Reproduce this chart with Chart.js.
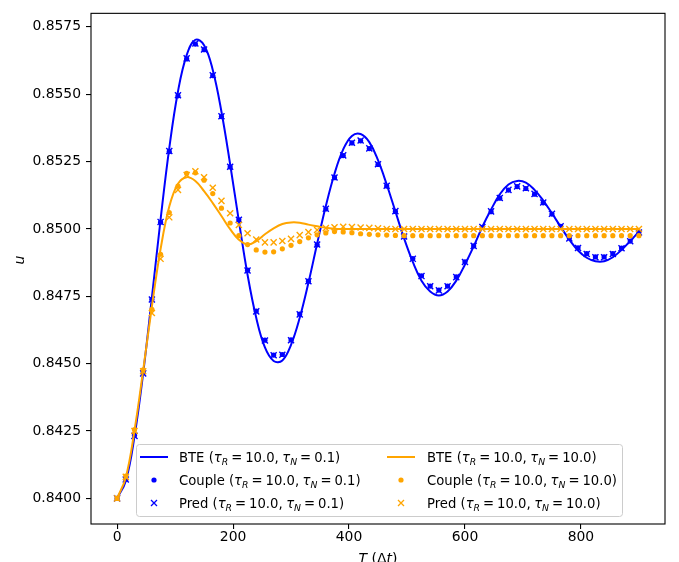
<!DOCTYPE html>
<html>
<head>
<meta charset="utf-8">
<script src="https://cdn.jsdelivr.net/npm/chart.js@4.4.1/dist/chart.umd.min.js"></script>
<style>
  html, body { margin: 0; padding: 0; background: #fff; }
  #wrap { width: 679px; height: 562px; }
</style>
</head>
<body>
<div id="wrap"><canvas id="chartU" width="679" height="562"></canvas></div>
<script>
// time steps (T in units of dt)
var tValues = [0, 15, 30, 45, 60, 75, 90, 105, 120, 135, 150, 165, 180, 195, 210, 225, 240, 255, 270, 285,
    300, 315, 330, 345, 360, 375, 390, 405, 420, 435, 450, 465, 480, 495, 510, 525, 540, 555, 570, 585,
    600, 615, 630, 645, 660, 675, 690, 705, 720, 735, 750, 765, 780, 795, 810, 825, 840, 855, 870, 885, 900];

// tau_N = 0.1
var bteFast = [0.84000, 0.84065, 0.84230, 0.84465, 0.84745, 0.85035, 0.85300, 0.85510, 0.85645, 0.85702,
    0.85682, 0.85590, 0.85435, 0.85240, 0.85030, 0.84830, 0.84670, 0.84560, 0.84510, 0.84512,
    0.84570, 0.84670, 0.84800, 0.84945, 0.85085, 0.85205, 0.85295, 0.85345, 0.85352, 0.85322,
    0.85255, 0.85165, 0.85065, 0.84965, 0.84878, 0.84808, 0.84768, 0.84753, 0.84768, 0.84808,
    0.84868, 0.84935, 0.85008, 0.85072, 0.85128, 0.85165, 0.85178, 0.85172, 0.85145, 0.85105,
    0.85058, 0.85008, 0.84960, 0.84920, 0.84893, 0.84880, 0.84880, 0.84895, 0.84922, 0.84955, 0.84990];
var coupleFast = [0.84000, 0.84071, 0.84234, 0.84466, 0.84739, 0.85025, 0.85287, 0.85494, 0.85631, 0.85686,
    0.85665, 0.85569, 0.85417, 0.85230, 0.85034, 0.84847, 0.84695, 0.84587, 0.84532, 0.84534,
    0.84588, 0.84684, 0.84806, 0.84941, 0.85074, 0.85190, 0.85272, 0.85319, 0.85327, 0.85298,
    0.85239, 0.85159, 0.85065, 0.84972, 0.84890, 0.84826, 0.84788, 0.84773, 0.84788, 0.84822,
    0.84878, 0.84937, 0.85006, 0.85064, 0.85114, 0.85144, 0.85157, 0.85150, 0.85129, 0.85097,
    0.85055, 0.85010, 0.84966, 0.84930, 0.84908, 0.84896, 0.84896, 0.84908, 0.84929, 0.84955, 0.84988];
var predFast = [0.84000, 0.84070, 0.84232, 0.84464, 0.84738, 0.85026, 0.85289, 0.85496, 0.85633, 0.85688,
    0.85666, 0.85570, 0.85418, 0.85231, 0.85034, 0.84846, 0.84694, 0.84586, 0.84531, 0.84533,
    0.84587, 0.84683, 0.84806, 0.84942, 0.85075, 0.85191, 0.85273, 0.85320, 0.85328, 0.85299,
    0.85240, 0.85160, 0.85066, 0.84972, 0.84889, 0.84825, 0.84787, 0.84772, 0.84787, 0.84821,
    0.84877, 0.84937, 0.85007, 0.85065, 0.85115, 0.85145, 0.85158, 0.85151, 0.85130, 0.85098,
    0.85056, 0.85010, 0.84965, 0.84929, 0.84907, 0.84895, 0.84895, 0.84907, 0.84928, 0.84954, 0.84987];

// tau_N = 10.0
var bteSlow = [0.84000, 0.84078, 0.84252, 0.84476, 0.84712, 0.84925, 0.85083, 0.85168, 0.85192, 0.85178,
    0.85140, 0.85096, 0.85048, 0.84999, 0.84960, 0.84942, 0.84955, 0.84980, 0.85002, 0.85018,
    0.85024, 0.85023, 0.85016, 0.85010, 0.85004, 0.85001, 0.85000, 0.85000, 0.85000, 0.85000,
    0.85000, 0.85000, 0.85000, 0.85000, 0.85000, 0.85000, 0.85000, 0.85000, 0.85000, 0.85000,
    0.85000, 0.85000, 0.85000, 0.85000, 0.85000, 0.85000, 0.85000, 0.85000, 0.85000, 0.85000,
    0.85000, 0.85000, 0.85000, 0.85000, 0.85000, 0.85000, 0.85000, 0.85000, 0.85000, 0.85000, 0.85000];
var coupleSlow = [0.84000, 0.84083, 0.84255, 0.84477, 0.84702, 0.84906, 0.85061, 0.85159, 0.85206, 0.85208,
    0.85181, 0.85131, 0.85077, 0.85022, 0.84975, 0.84942, 0.84922, 0.84914, 0.84915, 0.84926,
    0.84939, 0.84953, 0.84967, 0.84978, 0.84985, 0.84990, 0.84989, 0.84986, 0.84982, 0.84980,
    0.84978, 0.84977, 0.84976, 0.84975, 0.84975, 0.84975, 0.84975, 0.84975, 0.84975, 0.84975,
    0.84975, 0.84975, 0.84975, 0.84975, 0.84975, 0.84975, 0.84975, 0.84975, 0.84975, 0.84975,
    0.84975, 0.84975, 0.84975, 0.84975, 0.84975, 0.84975, 0.84975, 0.84975, 0.84975, 0.84975, 0.84975];
var predSlow = [0.84000, 0.84080, 0.84250, 0.84472, 0.84688, 0.84889, 0.85043, 0.85145, 0.85200, 0.85214,
    0.85192, 0.85153, 0.85104, 0.85058, 0.85015, 0.84984, 0.84961, 0.84950, 0.84950, 0.84955,
    0.84963, 0.84977, 0.84988, 0.84996, 0.85003, 0.85006, 0.85008, 0.85007, 0.85005, 0.85004,
    0.85002, 0.85000, 0.85000, 0.85000, 0.85000, 0.85000, 0.85000, 0.85000, 0.85000, 0.85000,
    0.85000, 0.85000, 0.85000, 0.85000, 0.85000, 0.85000, 0.85000, 0.85000, 0.85000, 0.85000,
    0.85000, 0.85000, 0.85000, 0.85000, 0.85000, 0.85000, 0.85000, 0.85000, 0.85000, 0.85000, 0.85000];

var xTicks = [0, 200, 400, 600, 800];
var yTicks = [0.8400, 0.8425, 0.8450, 0.8475, 0.8500, 0.8525, 0.8550, 0.8575];
var seriesNames = ['BTE', 'Couple', 'Pred'];
var tauR = '10.0';
var tauN = ['0.1', '10.0'];

var FONT = '"DejaVu Sans", "Liberation Sans", sans-serif';
var BLUE = '#0000ff';
var ORANGE = '#ffa500';

function toPoints(values) {
    return tValues.map((t, i) => ({ x: t, y: values[i] }));
}

function lineSet(values, color, order) {
    return {
        data: toPoints(values), borderColor: color, backgroundColor: color,
        borderWidth: 2, pointRadius: 0, tension: 0.4, fill: false, order: order
    };
}
function dotSet(values, color, order) {
    return {
        data: toPoints(values), showLine: false, pointStyle: 'circle', pointRadius: 2.6,
        pointBorderWidth: 0, backgroundColor: color, borderColor: color, order: order
    };
}
function crossSet(values, color, order) {
    return {
        data: toPoints(values), showLine: false, pointStyle: 'crossRot', pointRadius: 4.3,
        pointBorderWidth: 1.4, backgroundColor: color, borderColor: color, order: order
    };
}

// pieces of a mathtext-like label: plain, italic, subscript
function labelRuns(name, tn) {
    return [
        { t: name + ' (' }, { t: 'τ', it: true }, { t: 'R', it: true, sub: true }, { gap: 3 },
        { t: '=' }, { gap: 3 }, { t: tauR + ',' }, { gap: 3.5 },
        { t: 'τ', it: true }, { t: 'N', it: true, sub: true }, { gap: 3 },
        { t: '=' }, { gap: 3 }, { t: tn }, { t: ')' }
    ];
}

function drawRuns(ctx, x, y, runs, size) {
    ctx.textAlign = 'left';
    ctx.textBaseline = 'alphabetic';
    runs.forEach(r => {
        if (r.gap) { x += r.gap; return; }
        let s = r.sub ? size * 0.7 : size;
        ctx.font = (r.it ? 'italic ' : '') + s + 'px ' + FONT;
        ctx.fillText(r.t, x, r.sub ? y + size * 0.22 : y);
        x += ctx.measureText(r.t).width;
    });
}

function drawHandle(ctx, kind, color, x0, y) {
    ctx.save();
    ctx.strokeStyle = color;
    ctx.fillStyle = color;
    if (kind == 0) {
        ctx.lineWidth = 2;
        ctx.beginPath(); ctx.moveTo(x0, y); ctx.lineTo(x0 + 28, y); ctx.stroke();
    } else if (kind == 1) {
        ctx.beginPath(); ctx.arc(x0 + 14, y, 2.6, 0, Math.PI * 2); ctx.fill();
    } else {
        ctx.lineWidth = 1.3;
        let r = 3;
        ctx.beginPath();
        ctx.moveTo(x0 + 14 - r, y - r); ctx.lineTo(x0 + 14 + r, y + r);
        ctx.moveTo(x0 + 14 - r, y + r); ctx.lineTo(x0 + 14 + r, y - r);
        ctx.stroke();
    }
    ctx.restore();
}

var decorations = {
    id: 'decorations',
    afterDraw(chart) {
        const ctx = chart.ctx;
        const a = chart.chartArea;
        ctx.save();
        // frame
        ctx.strokeStyle = '#000';
        ctx.lineWidth = 1.1;
        ctx.strokeRect(a.left, a.top, a.right - a.left, a.bottom - a.top);

        // axis titles
        ctx.fillStyle = '#000';
        let cx = (a.left + a.right) / 2;
        let parts = [{ t: 'T', it: true }, { gap: 4.4 }, { t: '(Δ' }, { t: 't', it: true }, { t: ')' }];
        let w = 0;
        parts.forEach(p => {
            if (p.gap) { w += p.gap; return; }
            ctx.font = (p.it ? 'italic ' : '') + '14px ' + FONT;
            w += ctx.measureText(p.t).width;
        });
        drawRuns(ctx, cx - w / 2, 563, parts, 14);

        ctx.save();
        ctx.translate(24, 260);
        ctx.rotate(-Math.PI / 2);
        ctx.font = 'italic 14px ' + FONT;
        ctx.textAlign = 'center';
        ctx.textBaseline = 'alphabetic';
        ctx.fillText('u', 0, 0);
        ctx.restore();

        // legend box
        ctx.fillStyle = 'rgba(255,255,255,0.8)';
        ctx.strokeStyle = '#cccccc';
        ctx.lineWidth = 1;
        ctx.beginPath();
        ctx.roundRect(136.5, 444.5, 486, 72, 3);
        ctx.fill();
        ctx.stroke();

        const cols = [{ hx: 140, tx: 179, color: BLUE }, { hx: 387, tx: 427, color: ORANGE }];
        const rows = [457, 480, 503];
        cols.forEach((c, ci) => {
            rows.forEach((ry, ri) => {
                drawHandle(ctx, ri, c.color, c.hx, ry);
                ctx.fillStyle = '#000';
                drawRuns(ctx, c.tx, ry + 5, labelRuns(seriesNames[ri], tauN[ci]), 13.2);
            });
        });
        ctx.restore();
    }
};

var tickFont = { family: FONT, size: 13.9 };

new Chart(document.getElementById('chartU'), {
    type: 'line',
    data: {
        datasets: [
            lineSet(bteFast, BLUE, 6),
            dotSet(coupleFast, BLUE, 5),
            crossSet(predFast, BLUE, 4),
            lineSet(bteSlow, ORANGE, 3),
            dotSet(coupleSlow, ORANGE, 2),
            crossSet(predSlow, ORANGE, 1)
        ]
    },
    options: {
        responsive: false,
        animation: false,
        layout: { padding: { top: 7, right: 14, left: 0, bottom: 0 } },
        plugins: { legend: { display: false }, tooltip: { enabled: false } },
        scales: {
            x: {
                type: 'linear', min: -45, max: 945,
                afterBuildTicks: s => { s.ticks = xTicks.map(v => ({ value: v })); },
                afterFit: s => { s.height = 38; },
                grid: { display: true, drawOnChartArea: false, drawTicks: true, tickLength: 5, color: '#000', lineWidth: 1.1 },
                border: { display: false },
                ticks: { font: tickFont, color: '#000', padding: 0, maxRotation: 0, callback: v => String(v) }
            },
            y: {
                type: 'linear', min: 0.83905, max: 0.85800,
                afterBuildTicks: s => { s.ticks = yTicks.map(v => ({ value: v })); },
                afterFit: s => { s.width = 91; },
                grid: { display: true, drawOnChartArea: false, drawTicks: true, tickLength: 5, color: '#000', lineWidth: 1.1 },
                border: { display: false },
                ticks: { font: tickFont, color: '#000', padding: 5, callback: v => v.toFixed(4) }
            }
        }
    },
    plugins: [decorations]
});
</script>
</body>
</html>
